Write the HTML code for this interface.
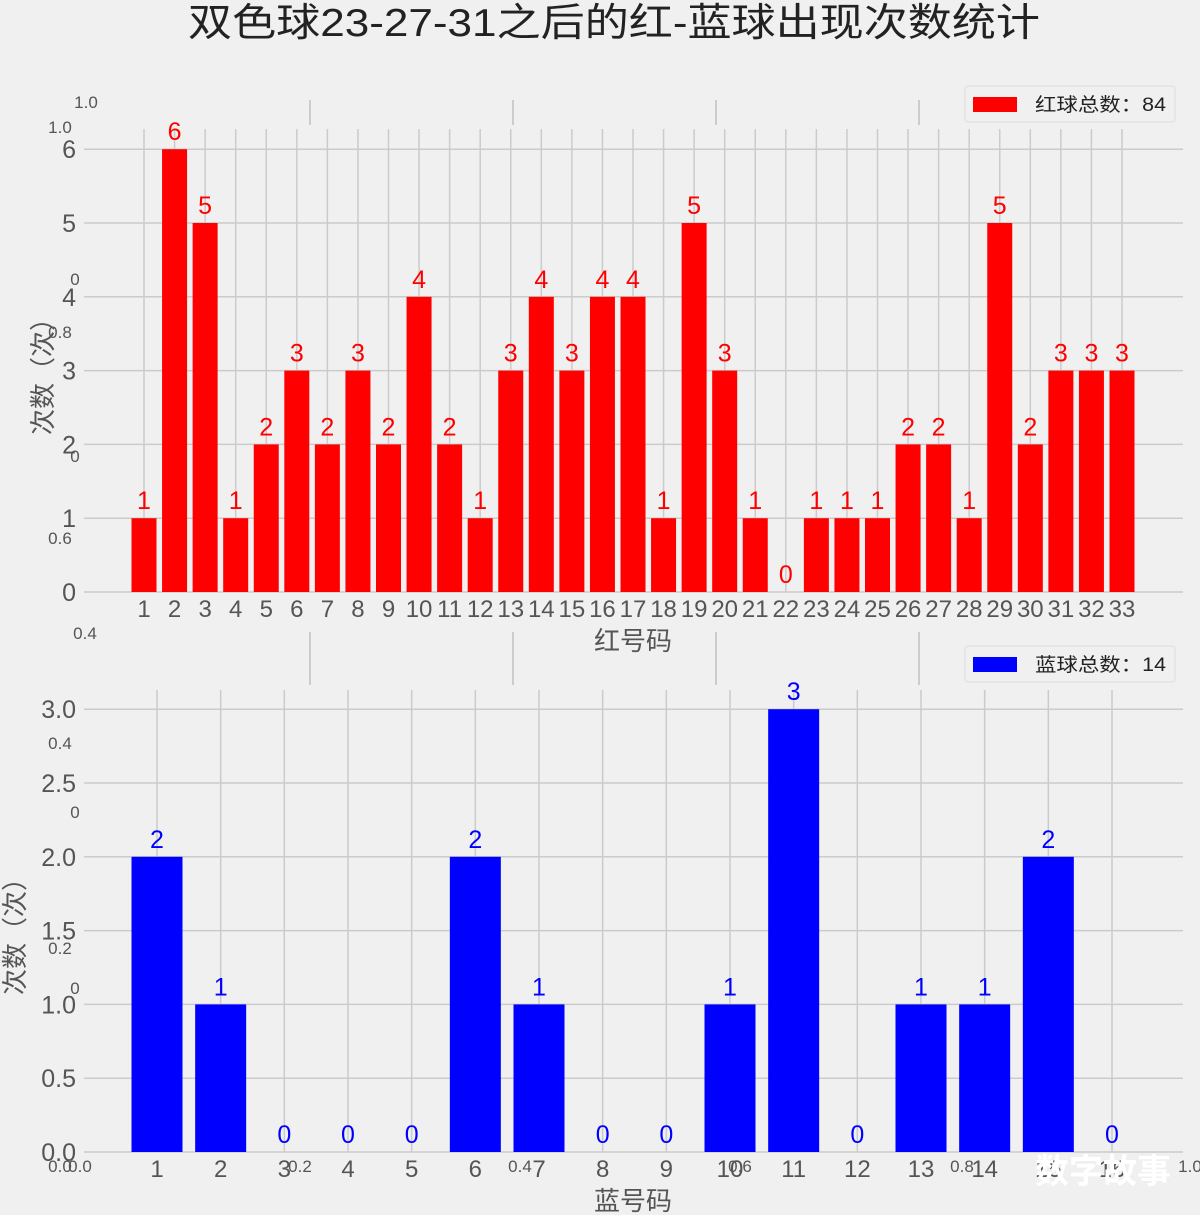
<!DOCTYPE html>
<html><head><meta charset="utf-8"><style>
body{margin:0;background:#f0f0f0;}
svg{display:block;font-family:"Liberation Sans","Noto Sans CJK SC",sans-serif;}
</style></head><body>
<svg id="c" width="1200" height="1215" xmlns="http://www.w3.org/2000/svg">
<rect width="1200" height="1215" fill="#f0f0f0"/>
<text x="614" y="36" text-anchor="middle" font-size="39" fill="#222" textLength="852" lengthAdjust="spacingAndGlyphs">双色球23-27-31之后的红-蓝球出现次数统计</text>
</svg>
<script>
const redCats=[1,2,3,4,5,6,7,8,9,10,11,12,13,14,15,16,17,18,19,20,21,22,23,24,25,26,27,28,29,30,31,32,33];
const redVals=[1,6,5,1,2,3,2,3,2,4,2,1,3,4,3,4,4,1,5,3,1,0,1,1,1,2,2,1,5,2,3,3,3];
const redTicks=[0,1,2,3,4,5,6];
const blueCats=[1,2,3,4,5,6,7,8,9,10,11,12,13,14,15,16];
const blueVals=[2,1,0,0,0,2,1,0,0,1,3,0,1,1,2,0];
const blueTicks=[0,0.5,1,1.5,2,2.5,3];

const svg=document.getElementById('c');
const NS='http://www.w3.org/2000/svg';
function mk(tag,attrs,parent){const e=document.createElementNS(NS,tag);for(const k in attrs)e.setAttribute(k,attrs[k]);(parent||svg).appendChild(e);return e;}

const bg=mk('g',{});


[310,513,716,919].forEach(x=>{
  mk('line',{x1:x,x2:x,y1:100,y2:125,stroke:'#ccc','stroke-width':2},bg);
  mk('line',{x1:x,x2:x,y1:632,y2:685,stroke:'#ccc','stroke-width':2},bg);
});

function chart(o){
  const g=mk('g',{});
  
  
  const n=o.cats.length;
  const x=i=>o.x0+i*(o.x1-o.x0)/(n-1);
  const y=v=>o.y0-v*o.unit;
  o.cats.forEach((c,i)=>{
    const gl=mk('line',{x1:x(i),x2:x(i),y1:o.top,y2:o.y0,stroke:'#cbcbcb','stroke-width':1.5},g);
    
    
  });
  o.ticks.forEach(t=>{
    const gl=mk('line',{x1:84,x2:1183,y1:y(t),y2:y(t),stroke:'#cbcbcb','stroke-width':1.5},g);
    
    
    const tl=mk('text',{x:76,y:y(t)+9,'text-anchor':'end','font-size':25,fill:'#555'},g);
    tl.textContent=o.fmt(t);
    
    
  });
  o.vals.forEach((v,i)=>{
    const b=mk('rect',{x:x(i)-o.bw/2,y:y(v),width:o.bw,height:v*o.unit,fill:o.color},g);
    
    
    const vl=mk('text',{x:x(i),y:y(v)-9,'text-anchor':'middle','font-size':25,fill:o.color},g);
    vl.textContent=v;
    
    
    const xl=mk('text',{x:x(i),y:o.y0+25,'text-anchor':'middle','font-size':24,fill:'#555'},g);
    xl.textContent=o.cats[i];
    
    
  });
  const xt=mk('text',{x:633,y:o.y0+58,'text-anchor':'middle','font-size':26,fill:'#555'},g);
  xt.textContent=o.xtitle;
  
  
  const yt=mk('text',{x:0,y:0,'text-anchor':'middle','font-size':26,fill:'#555',transform:`translate(${o.ytx},${o.yty}) rotate(-90)`},g);
  yt.textContent='次数（次）';
  
  
  const lg=mk('g',{},g);
  
  
  mk('rect',{x:965,y:o.ly,width:210,height:36,rx:3,fill:'#f0f0f0',stroke:'#ddd'},lg);
  mk('rect',{x:973,y:o.ly+11,width:44,height:15,fill:o.color},lg);
  const lt=mk('text',{x:1035,y:o.ly+25,'font-size':19,fill:'#222',textLength:131,lengthAdjust:'spacingAndGlyphs'},lg);
  lt.textContent=o.legend;
  
  
}
chart({name:'red-chart',cats:redCats,vals:redVals,ticks:redTicks,x0:144,x1:1122,y0:592,unit:73.8,top:129,bw:25,color:'#ff0000',fmt:t=>t,xtitle:'红号码',ytx:52,yty:370,ly:86,legend:'红球总数：84'});
chart({name:'blue-chart',cats:blueCats,vals:blueVals,ticks:blueTicks,x0:157,x1:1112,y0:1152,unit:147.6,top:690,bw:51,color:'#0000ff',fmt:t=>t.toFixed(1),xtitle:'蓝号码',ytx:24,yty:930,ly:646,legend:'蓝球总数：14'});

[[86,108,'1.0'],[60,133,'1.0'],[75,285,'0'],[60,338,'0.8'],[75,462,'0'],[60,544,'0.6'],[85,639,'0.4'],[60,749,'0.4'],[75,818,'0'],[60,954,'0.2'],[75,994,'0'],[60,1172,'0.0'],[80,1172,'0.0'],[300,1172,'0.2'],[520,1172,'0.4'],[740,1172,'0.6'],[962,1172,'0.8'],[1190,1172,'1.0']].forEach(a=>{
  const t=mk('text',{x:a[0],y:a[1],'text-anchor':'middle','font-size':17,fill:'#555'},bg);
  t.textContent=a[2];
  
  
});
const wm=mk('text',{x:1103,y:1183,'text-anchor':'middle','font-size':34,'font-weight':'bold',fill:'#ffffff'});
wm.textContent='数字故事';


</script>
</body></html>
